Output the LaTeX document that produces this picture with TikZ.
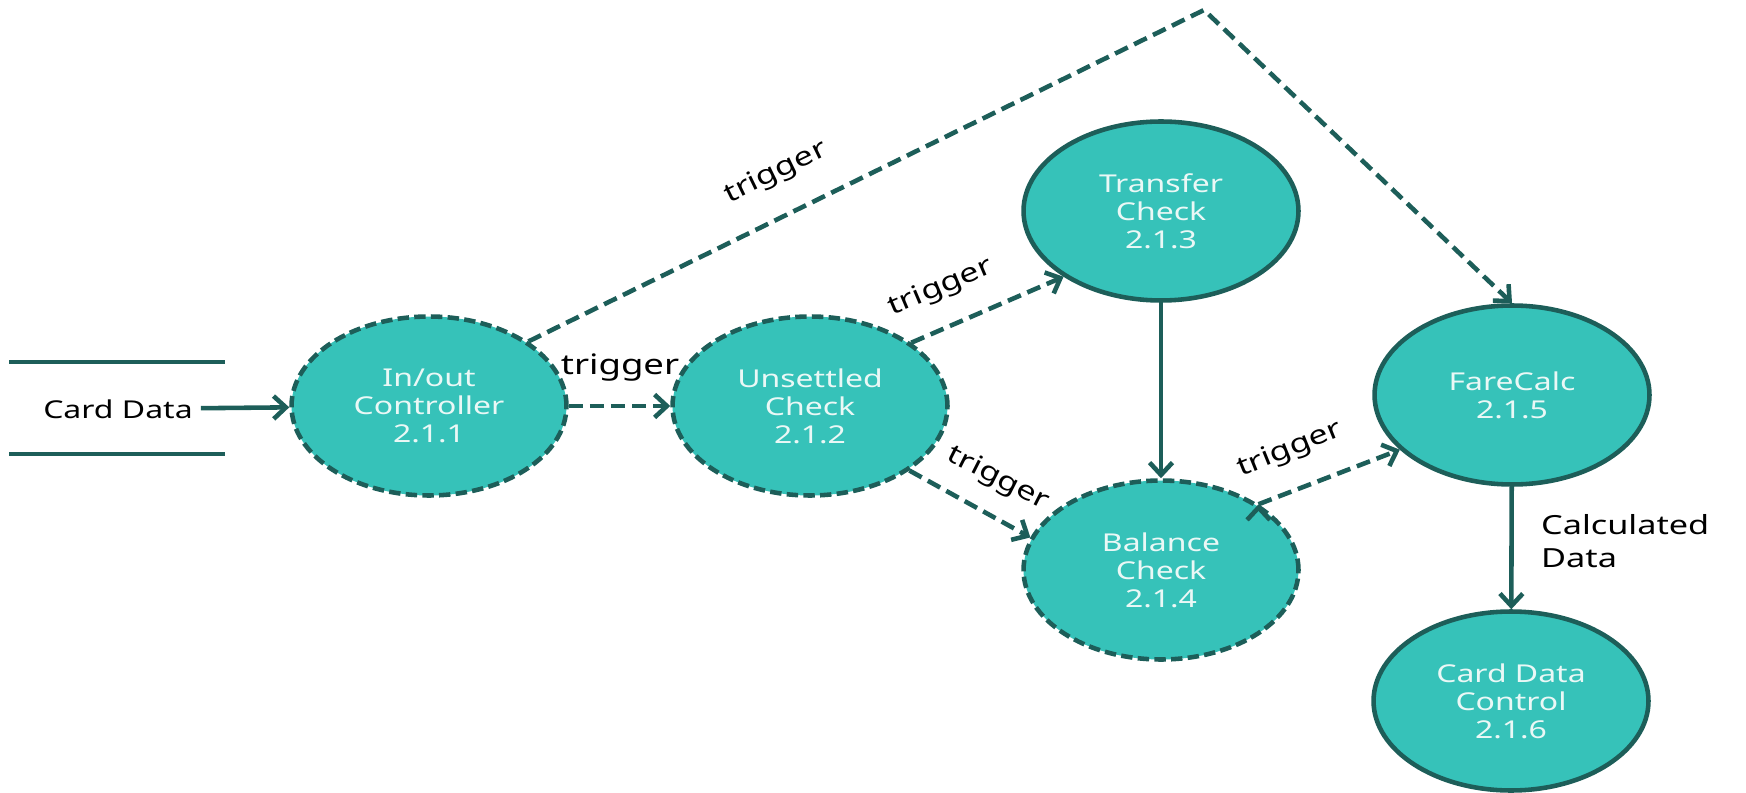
\documentclass[tikz,border=0pt]{standalone}
\usepackage{fontspec}
\setmainfont{Noto Sans}[FakeStretch=1.3]
\usetikzlibrary{arrows.meta,shapes.geometric}
\definecolor{tealfill}{HTML}{36C2B9}
\definecolor{tealdark}{HTML}{1D5E59}
\definecolor{nodetext}{HTML}{EAF8F6}

\begin{document}
\begin{tikzpicture}[->,>={Straight Barb[length=7pt,width=13pt]},x=0.02cm,y=-0.02cm,
  line width=2.6pt,
  main node/.style={ellipse,fill=tealfill,draw=tealdark,solid,minimum width=5.5cm,
    minimum height=3.58cm,align=center,text=nodetext,font=\fontsize{14}{16}\selectfont},
  open node/.style={main node,dash pattern=on 6.5pt off 3pt},
  link/.style={draw=tealdark},
  trig/.style={link,dash pattern=on 8pt off 4pt},
  label node/.style={text=black,align=left,font=\fontsize{15}{18.7}\selectfont}]

  \useasboundingbox (0,0) rectangle (1746,793);

  % data store
  \draw[-,link] (9,362) -- (225,362);
  \draw[-,link] (9,454) -- (225,454);
  \node[label node,font=\fontsize{14}{16}\selectfont] (0) at (118,409) {Card Data};

  \node[open node] (1) at (429,406) {In/out\\Controller\\2.1.1};
  \node[open node] (2) at (810,406) {Unsettled\\Check\\2.1.2};
  \node[main node] (3) at (1161,211) {Transfer\\Check\\2.1.3};
  \node[open node] (4) at (1161,570) {Balance\\Check\\2.1.4};
  \node[main node] (5) at (1512,395) {FareCalc\\2.1.5};
  \node[main node] (6) at (1511,701) {Card Data\\Control\\2.1.6};
  \coordinate (top) at (1204,10);

  \path[link]
    (0) edge (1)
    (1) edge[trig] (2)
    (2.32) edge[trig] (3.214)
    (2.-33) edge[trig] (4.166)
    (3) edge (4)
    (4.34) edge[trig] (5.206)
    (5) edge (6);
  \draw[trig] (1.33) -- (top) -- (5.north);

  % labels
  \node[label node,rotate=26] (t1) at (776,173) {trigger};
  \node[label node,font=\fontsize{16}{18}\selectfont] (t2) at (620,368) {trigger};
  \node[label node,rotate=23] (t3) at (941,288) {trigger};
  \node[label node,rotate=-27] (t4) at (998,479) {trigger};
  \node[label node,rotate=22] (t5) at (1290,450) {trigger};
  \node[label node,anchor=west] (cd) at (1533,541) {Calculated\\Data};
\end{tikzpicture}
\end{document}
